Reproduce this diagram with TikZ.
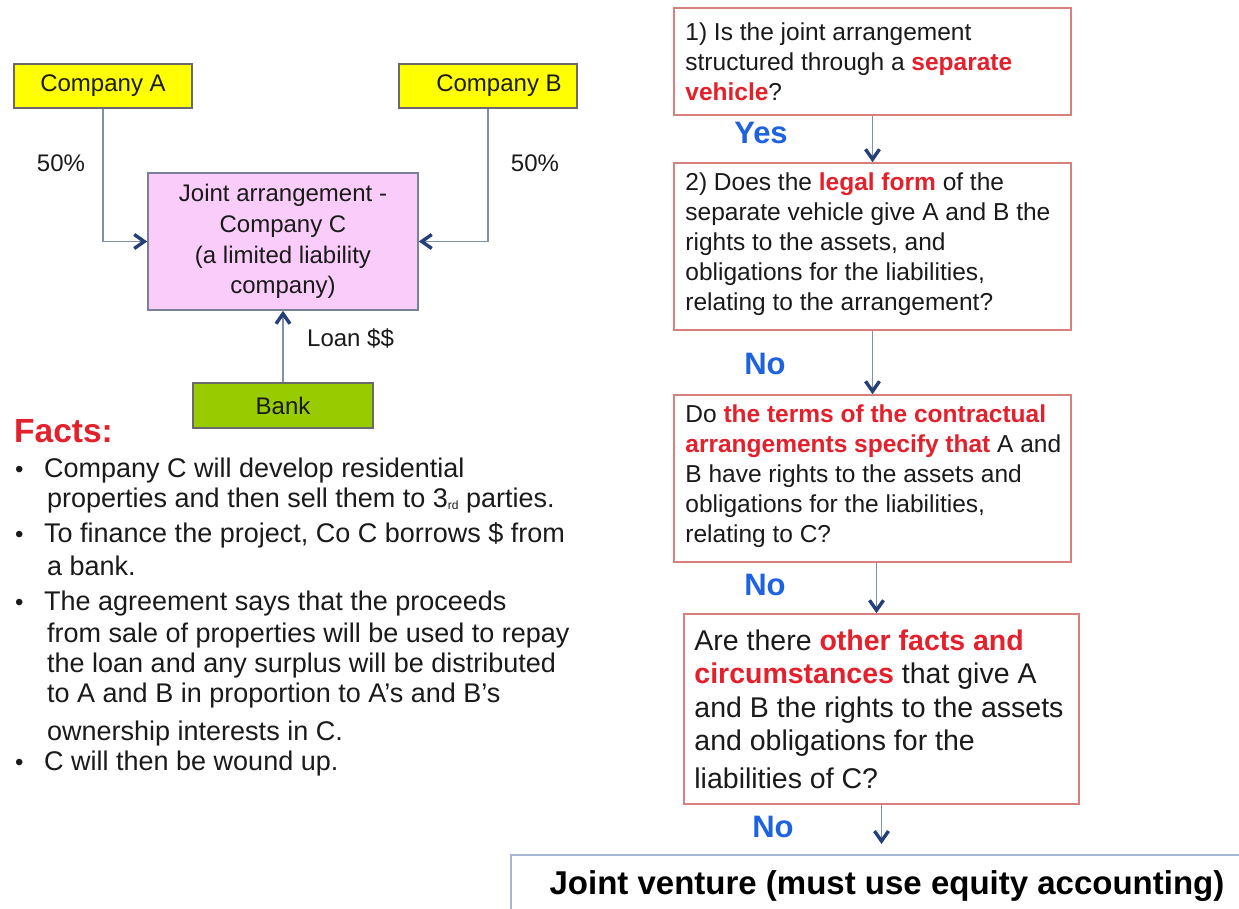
\documentclass[tikz,border=0pt]{standalone}
\usepackage{fontspec}
\setmainfont{Liberation Sans}
\usetikzlibrary{arrows.meta,calc}

\definecolor{redtxt}{HTML}{E3202B}
\definecolor{bluetxt}{HTML}{1F62E0}
\definecolor{qborder}{HTML}{D9807E}
\definecolor{linegray}{HTML}{8090A8}
\definecolor{tipnavy}{HTML}{23407A}
\definecolor{yellowfill}{HTML}{FFFF00}
\definecolor{pinkfill}{HTML}{F9CCF9}
\definecolor{greenfill}{HTML}{99CC00}
\definecolor{boxedge}{HTML}{6A6A6A}
\definecolor{jboxedge}{HTML}{7C8096}
\definecolor{jvedge}{HTML}{A9B5D6}
\definecolor{txt}{HTML}{1A1A1A}

\newcommand{\redb}[1]{\textcolor{redtxt}{\bfseries #1}}
\newcommand{\fsz}[2]{\fontsize{#1}{#2}\selectfont}

\tikzset{
  cbox/.style={draw=boxedge, line width=1.6pt, minimum width=178, minimum height=44,
               inner sep=0pt, text=txt, font=\fsz{24}{29}},
  jbox/.style={draw=jboxedge, fill=pinkfill, line width=1.6pt, minimum width=270,
               minimum height=137, align=center, text=txt, font=\fsz{24}{30.7}},
  qbox/.style={draw=qborder, line width=1.6pt, inner sep=0pt},
  qtext/.style={anchor=west, align=left, inner sep=0pt, text=txt, font=\fsz{24.5}{30}},
  qtextbig/.style={anchor=west, align=left, inner sep=0pt, text=txt, font=\fsz{28.5}{33.5}},
  answer/.style={text=bluetxt, font=\bfseries\fsz{31}{31}, inner sep=0pt},
  label/.style={text=txt, font=\fsz{24}{29}, inner sep=0pt},
  fact/.style={anchor=base west, text=txt, font=\fsz{27}{31}, inner sep=0pt},
  dot/.style={anchor=base west, text=txt, font=\fsz{24}{31}, inner sep=0pt},
  conn/.style={draw=linegray, line width=1.8pt,
               -{Straight Barb[length=10pt,width=14pt,line width=3.4pt,color=tipnavy]}},
}

\begin{document}
\begin{tikzpicture}[x=1pt,y=-1pt]
\useasboundingbox (0,0) rectangle (1239,908);
\clip (0,0) rectangle (1239,908);
\fill[white] (0,0) rectangle (1239,908);

% ---- ownership structure ----
\node[cbox, fill=yellowfill] (compA) at (103,86) {Company A};
\node[cbox, fill=yellowfill] (compB) at (488,86) {\hspace*{22pt}Company B};
\node[jbox] (jc) at (283,241.5) {Joint arrangement -\\Company C\\(a limited liability\\company)};
\node[cbox, fill=greenfill, minimum width=180, minimum height=45] (bank) at (283,405.5) {Bank};

\draw[conn] (compA.south) |- (jc.west);
\draw[conn] (compB.south) |- (jc.east);
\draw[conn] (bank.north) -- (jc.south);

\node[label] (pa) at (61,163) {50\%};
\node[label] (pb) at (535,163) {50\%};
\node[label, anchor=west] (loan) at (307,338) {Loan \$\$};

% ---- facts ----
\node[anchor=west, inner sep=0pt, text=redtxt, font=\bfseries\fsz{33.5}{36}] (facts) at (14,431) {Facts:};

\node[dot] (d1) at (15,477) {•};
\node[dot] (d2) at (15,542) {•};
\node[dot] (d3) at (15,610) {•};
\node[dot] (d4) at (15,770) {•};

\node[fact] (f1) at (44,477) {Company C will develop residential};
\node[fact] (f2) at (47,507) {properties and then sell them to 3\raisebox{-2pt}{\fsz{12}{12}rd} parties.};
\node[fact] (f3) at (44,542) {To finance the project, Co C borrows \$ from};
\node[fact] (f4) at (47,575) {a bank.};
\node[fact] (f5) at (44,610) {The agreement says that the proceeds};
\node[fact] (f6) at (47,642) {from sale of properties will be used to repay};
\node[fact] (f7) at (47,672) {the loan and any surplus will be distributed};
\node[fact] (f8) at (47,702) {to A and B in proportion to A’s and B’s};
\node[fact] (f9) at (47,740) {ownership interests in C.};
\node[fact] (f10) at (44,770) {C will then be wound up.};

% ---- decision flow ----
\node[qbox, minimum width=397, minimum height=107] (q1) at (872.5,61.5) {};
\node[qbox, minimum width=397, minimum height=167] (q2) at (872.5,246.5) {};
\node[qbox, minimum width=397, minimum height=167] (q3) at (872.5,478.5) {};
\node[qbox, minimum width=395, minimum height=190] (q4) at (881.5,709) {};
\node[draw=jvedge, line width=2pt, minimum width=760, minimum height=80, inner sep=0pt] (jv) at (891,895) {};

\node[qtext] (q1t) at ([xshift=12pt]q1.west) {1) Is the joint arrangement\\structured through a \redb{separate}\\\redb{vehicle}?};
\node[qtext] (q2t) at ([xshift=12pt,yshift=2pt]q2.west) {2) Does the \redb{legal form} of the\\separate vehicle give A and B the\\rights to the assets, and\\obligations for the liabilities,\\relating to the arrangement?};
\node[qtext] (q3t) at ([xshift=12pt,yshift=2pt]q3.west) {Do \redb{the terms of the contractual}\\\redb{arrangements specify that} A and\\B have rights to the assets and\\obligations for the liabilities,\\relating to C?};
\node[qtextbig] (q4t) at ([xshift=11pt,yshift=0pt]q4.west) {Are there \redb{other facts and}\\\redb{circumstances} that give A\\and B the rights to the assets\\and obligations for the\\[4pt]liabilities of C?};
\node[inner sep=0pt, text=black, font=\bfseries\fsz{33}{36}] (jvt) at (887,886) {Joint venture (must use equity accounting)};

\draw[conn] (q1.south) -- (q2.north);
\draw[conn] (q2.south) -- (q3.north);
\draw[conn] ([xshift=4pt]q3.south) -- ([xshift=4pt]q3.south |- q4.north);
\draw[conn] (q4.south) -- ([yshift=10pt]q4.south |- jv.north);

\node[answer] (yes) at (761,133) {Yes};
\node[answer] (no1) at (765,364) {No};
\node[answer] (no2) at (765,585) {No};
\node[answer] (no3) at (773,827) {No};
\end{tikzpicture}
\end{document}
